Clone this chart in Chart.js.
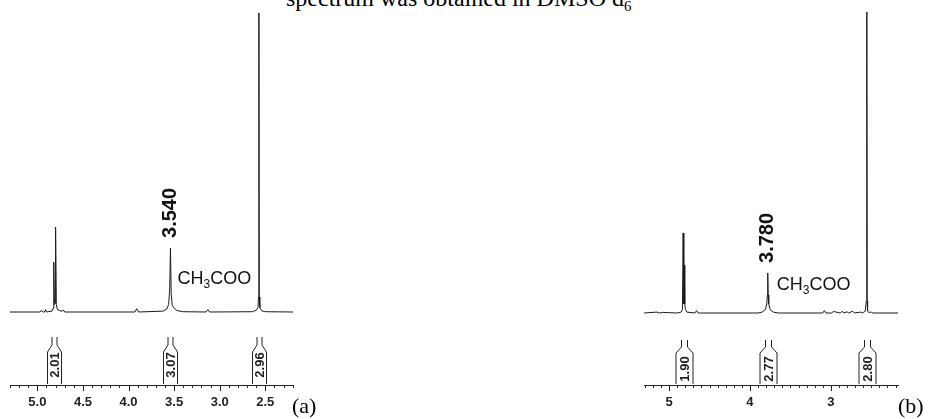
<!DOCTYPE html>
<html>
<head>
<meta charset="utf-8">
<script src="https://cdn.jsdelivr.net/npm/chart.js@4/dist/chart.umd.min.js"></script>
<style>
  body { margin: 0; background: #fff; width: 928px; height: 419px; position: relative; overflow: hidden; }
  canvas { position: absolute; top: 0; }
  #chartA { left: 0; }
  #chartB { left: 630px; }
  .serif { position: absolute; font-family: "Liberation Serif", "Times New Roman", serif; color: #000; white-space: nowrap; }
  #title { left: 286px; top: -14px; font-size: 24px; line-height: 24px; }
  #title sub { font-size: 15px; vertical-align: -5px; line-height: 0; }
  #labA { left: 292px; top: 394px; font-size: 22px; line-height: 24px; }
  #labB { left: 898px; top: 394px; font-size: 22px; line-height: 24px; }
</style>
</head>
<body>
<div id="title" class="serif">spectrum was obtained in DMSO d<sub>6</sub></div>
<canvas id="chartA" width="310" height="419"></canvas>
<canvas id="chartB" width="298" height="419"></canvas>
<div id="labA" class="serif">(a)</div>
<div id="labB" class="serif">(b)</div>
<script>
// panel (a): chemical shift (ppm) and relative intensity (tallest = 100)
const ppmA = [5.30, 4.97, 4.955, 4.94, 4.92, 4.91, 4.90, 4.84, 4.828, 4.82, 4.812, 4.805, 4.80, 4.792, 4.78, 4.73, 4.716, 4.70,
  3.93, 3.91, 3.89, 3.62, 3.58, 3.56, 3.548, 3.54, 3.532, 3.52, 3.50, 3.47, 3.40, 3.15, 3.13, 3.11,
  2.64, 2.60, 2.58, 2.574, 2.57, 2.566, 2.56, 2.54, 2.50, 2.196];
const intA = [0, 0, 0.6, 0, 0, 0.8, 0, 0.3, 1.2, 16.7, 2.5, 3, 28.4, 2.5, 0.8, 0.2, 0.7, 0,
  0, 1.1, 0, 0.3, 1.0, 2.5, 8, 21.4, 6, 2.2, 1.3, 0.5, 0.1, 0, 0.8, 0,
  0.1, 0.6, 1.5, 5, 100, 5, 1.5, 0.4, 0.1, 0];
const integralPosA = [4.817, 3.54, 2.565];
const integralValA = ['2.01', '3.07', '2.96'];
const ticksA = { minor: 0.1, major: 0.5, digits: 1 };

// panel (b)
const ppmB = [5.31, 5.15, 5.12, 5.08, 4.90, 4.85, 4.835, 4.826, 4.818, 4.812, 4.806, 4.798, 4.78, 4.68, 4.66, 4.64,
  3.90, 3.85, 3.81, 3.792, 3.785, 3.78, 3.775, 3.768, 3.75, 3.71, 3.65, 3.10, 3.08, 3.06, 2.99, 2.97, 2.88, 2.86, 2.84,
  2.80, 2.78, 2.73, 2.71, 2.63, 2.61, 2.575, 2.562, 2.557, 2.554, 2.551, 2.546, 2.53, 2.50, 2.48, 2.17];
const intB = [0, 0.3, 0, 0.2, 0, 0.3, 1.2, 26.6, 3, 15.9, 3, 1.2, 0.3, 0, 0.8, 0,
  0, 0.3, 1.1, 3, 6, 13.3, 6, 3, 1.1, 0.3, 0, 0, 0.8, 0, 0, 0.5, 0, 0.6, 0,
  0.4, 0, 0.6, 0, 0.3, 0, 0.6, 4, 18, 100, 4, 0.6, 0.2, 0.3, 0, 0];
const integralPosB = [4.815, 3.78, 2.554];
const integralValB = ['1.90', '2.77', '2.80'];
const ticksB = { minor: 0.1, major: 1, digits: 0 };

const SANS = '"Liberation Sans", Arial, sans-serif';

const annot = {
  id: 'annot',
  afterDraw(chart, args, o) {
    const ctx = chart.ctx, xs = chart.scales.x, ys = chart.scales.y, area = chart.chartArea;
    ctx.save();
    ctx.strokeStyle = '#222';
    ctx.fillStyle = '#222';
    ctx.lineWidth = 1;
    // minor + major ticks
    const n0 = Math.ceil(xs.min / o.ticks.minor - 1e-6), n1 = Math.floor(xs.max / o.ticks.minor + 1e-6);
    const ratio = Math.round(o.ticks.major / o.ticks.minor);
    ctx.beginPath();
    for (let i = n0; i <= n1; i++) {
      const px = Math.round(xs.getPixelForValue(i * o.ticks.minor)) + 0.5;
      const len = (i % ratio === 0) ? 6 : 3;
      ctx.moveTo(px, area.bottom);
      ctx.lineTo(px, area.bottom + len);
    }
    ctx.stroke();
    // integral marks
    const g = o.geom;
    o.integralPos.forEach((p, k) => {
      const cx = Math.round(xs.getPixelForValue(p)) + 0.5;
      ctx.beginPath();
      [-1, 1].forEach(s => {
        ctx.moveTo(cx + s * g.inner, g.top);
        ctx.lineTo(cx + s * g.inner, g.knee);
        ctx.lineTo(cx + s * g.outer, g.flare);
        ctx.lineTo(cx + s * g.outer, area.bottom - 1);
      });
      ctx.stroke();
      ctx.save();
      ctx.translate(cx + 0.5, g.textY);
      ctx.rotate(-Math.PI / 2);
      ctx.font = 'bold 13px ' + SANS;
      ctx.textAlign = 'center';
      ctx.textBaseline = 'middle';
      ctx.fillText(o.integralVal[k], 0, 0);
      ctx.restore();
    });
    // peak label
    const pk = o.peak;
    const px = xs.getPixelForValue(pk.ppm);
    const top = ys.getPixelForValue(pk.height);
    ctx.save();
    ctx.translate(px, top - pk.gap);
    ctx.rotate(-Math.PI / 2);
    ctx.font = 'bold 20px ' + SANS;
    ctx.textAlign = 'left';
    ctx.textBaseline = 'middle';
    ctx.fillStyle = '#111';
    ctx.fillText(pk.label, 0, 0);
    ctx.restore();
    // CH3COO
    ctx.fillStyle = '#111';
    ctx.textBaseline = 'alphabetic';
    ctx.textAlign = 'left';
    let tx = px + pk.groupDx;
    const ty = pk.groupY;
    ctx.font = '18px ' + SANS;
    ctx.fillText('CH', tx, ty);
    tx += ctx.measureText('CH').width;
    ctx.font = '12px ' + SANS;
    ctx.fillText('3', tx, ty + 4);
    tx += ctx.measureText('3').width;
    ctx.font = '18px ' + SANS;
    ctx.fillText('COO', tx, ty);
    ctx.restore();
  }
};

function makeChart(id, ppm, intens, xmin, xmax, ymin, ymax, pad, ticks, annotOpts) {
  return new Chart(document.getElementById(id), {
    type: 'line',
    data: {
      datasets: [{
        data: ppm.map((p, i) => ({ x: p, y: intens[i] })),
        borderColor: '#1a1a1a',
        borderWidth: 1,
        pointRadius: 0,
        tension: 0,
        fill: false
      }]
    },
    options: {
      responsive: false,
      animation: false,
      devicePixelRatio: 1,
      layout: { padding: { left: pad[0], right: pad[1], top: 0, bottom: 0 } },
      plugins: {
        legend: { display: false },
        tooltip: { enabled: false },
        annot: Object.assign({ ticks: ticks }, annotOpts)
      },
      scales: {
        x: {
          type: 'linear',
          reverse: true,
          min: xmin,
          max: xmax,
          afterFit: s => { s.height = 34; },
          grid: { display: false },
          border: { display: true, color: '#222', width: 1 },
          ticks: {
            stepSize: ticks.major,
            includeBounds: false,
            maxRotation: 0,
            autoSkip: false,
            padding: 2,
            color: '#222',
            font: { family: SANS, size: 13, weight: 'bold' },
            callback: v => v.toFixed(ticks.digits)
          }
        },
        y: { display: false, min: ymin, max: ymax }
      }
    },
    plugins: [annot]
  });
}

makeChart('chartA', ppmA, intA, 2.196, 5.30, -24.4, 104.3, [10, 17], ticksA, {
  integralPos: integralPosA,
  integralVal: integralValA,
  geom: { inner: 2.5, outer: 7, top: 337, knee: 345, flare: 352, textY: 365 },
  peak: { ppm: 3.54, height: 21.4, gap: 10, label: '3.540', groupDx: 7, groupY: 284 }
});

makeChart('chartB', ppmB, intB, 2.17, 5.31, -23.92, 103.99, [14, 30], ticksB, {
  integralPos: integralPosB,
  integralVal: integralValB,
  geom: { inner: 3, outer: 8.5, top: 340, knee: 347, flare: 353, textY: 369 },
  peak: { ppm: 3.78, height: 13.3, gap: 10, label: '3.780', groupDx: 9, groupY: 290 }
});
</script>
</body>
</html>
